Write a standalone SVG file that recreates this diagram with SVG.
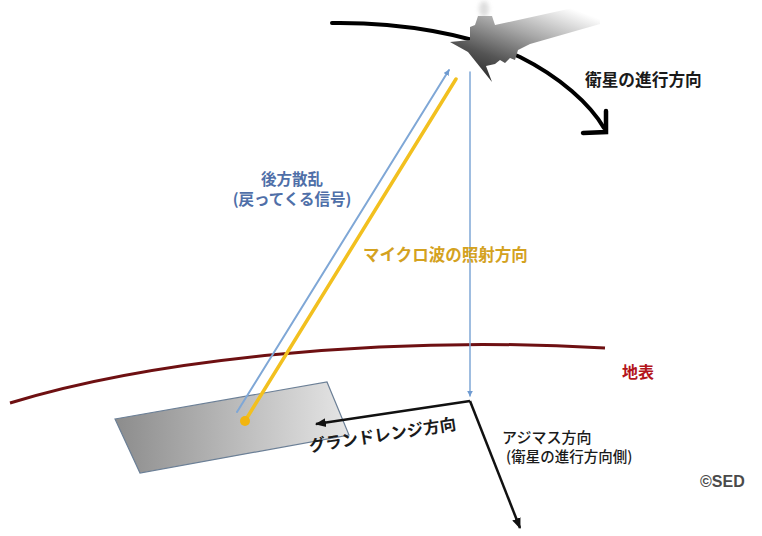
<svg xmlns="http://www.w3.org/2000/svg" width="762" height="536" viewBox="0 0 762 536">
  <defs>
    <linearGradient id="satShade" x1="0.1" y1="1" x2="0.8" y2="0">
      <stop offset="0" stop-color="#1e1e1e"/>
      <stop offset="0.3" stop-color="#555555"/>
      <stop offset="0.6" stop-color="#a8a8a8"/>
      <stop offset="0.95" stop-color="#ffffff"/>
    </linearGradient>
    <linearGradient id="groundShade" x1="0" y1="0" x2="1" y2="0">
      <stop offset="0" stop-color="#8c8c8c"/>
      <stop offset="1" stop-color="#e6e6e6"/>
    </linearGradient>
    <filter id="soft" x="-50%" y="-50%" width="200%" height="200%">
      <feGaussianBlur stdDeviation="2"/>
    </filter>
    <marker id="blueHead" viewBox="0 0 10 10" refX="9" refY="5" markerWidth="6" markerHeight="6" orient="auto" markerUnits="userSpaceOnUse">
      <path d="M0,0 L10,5 L0,10 z" fill="#6f9bd1"/>
    </marker>
    <marker id="blackHead" viewBox="0 0 10 10" refX="9" refY="5" markerWidth="11" markerHeight="11" orient="auto" markerUnits="userSpaceOnUse">
      <path d="M0,1 L10,5 L0,9 z" fill="#111"/>
    </marker>
    <style>
      .jp { font-family: "Noto Sans CJK JP", "Noto Sans", sans-serif; font-weight: bold; }
      .black { fill: #1a1a1a; }
      .ray { fill: none; stroke-linecap: round; }
    </style>
  </defs>

  <!-- satellite orbit with direction arrow -->
  <g id="orbit">
    <path d="M332,23 C400,22 470,34 520,57 C560,77 590,104 604,128" fill="none" stroke="#000" stroke-width="4" stroke-linecap="round"/>
    <path d="M606,111 L606,132 L583,133" fill="none" stroke="#000" stroke-width="4.5" stroke-linecap="round" stroke-linejoin="miter"/>
  </g>

  <!-- satellite -->
  <g id="satellite">
    <ellipse cx="484" cy="9" rx="5" ry="8" fill="#d0d0d0" opacity="0.7" filter="url(#soft)"/>
    <polygon points="450,42 468,52 492,82 486,66 495,64 500,60 505,63 510,58 515,60 518,50 530,44 600,24 600,2 495,25 492,16 478,16 475,25 470,27 470,40" fill="url(#satShade)"/>
  </g>

  <!-- earth surface -->
  <g id="surface">
    <path d="M10,403 C150,360 380,335 605,348" fill="none" stroke="#6e1012" stroke-width="3"/>
  </g>

  <!-- illuminated ground patch -->
  <g id="ground-patch">
    <polygon points="115,419 327,382 349,435 140,473" fill="url(#groundShade)" stroke="#6b7f96" stroke-width="1.2"/>
  </g>

  <!-- connectors -->
  <g id="connectors">
    <line x1="470" y1="72" x2="470" y2="396" class="ray" stroke="#7fa7d6" stroke-width="1.5" marker-end="url(#blueHead)"/>
    <line x1="237" y1="412" x2="449" y2="70" class="ray" stroke="#7fa7d6" stroke-width="2" marker-end="url(#blueHead)"/>
    <line x1="245" y1="421" x2="456" y2="79" class="ray" stroke="#f2c01f" stroke-width="3.5"/>
    <circle cx="245" cy="421" r="5" fill="#f2b50f"/>
    <line x1="470" y1="401" x2="316" y2="424" stroke="#111" stroke-width="2.5" marker-end="url(#blackHead)"/>
    <line x1="470" y1="401" x2="520" y2="528" stroke="#111" stroke-width="2.5" marker-end="url(#blackHead)"/>
  </g>

  <!-- labels -->
  <g id="labels">
    <text x="585" y="86" class="jp black" font-size="16.7">衛星の進行方向</text>
    <text x="292" y="185" class="jp" font-size="15.5" fill="#4f6fa8" text-anchor="middle">後方散乱</text>
    <text x="292" y="205" class="jp" font-size="15.5" fill="#4f6fa8" text-anchor="middle">(戻ってくる信号)</text>
    <text x="363" y="261" class="jp" font-size="16.5" fill="#d4a21f">マイクロ波の照射方向</text>
    <text x="622" y="378" class="jp" font-size="16" fill="#b3151b">地表</text>
    <text x="310" y="452" class="jp black" font-size="16.5" transform="rotate(-8.7 310 452)">グランドレンジ方向</text>
    <text x="502" y="443" class="jp black" font-size="15" style="font-weight:500">アジマス方向</text>
    <text x="506" y="462" class="jp black" font-size="14.5" style="font-weight:500">(衛星の進行方向側)</text>
    <text x="700" y="487" font-family="Liberation Sans, Arial, sans-serif" font-weight="bold" font-size="16" fill="#4a4a4a">©SED</text>
  </g>
</svg>
